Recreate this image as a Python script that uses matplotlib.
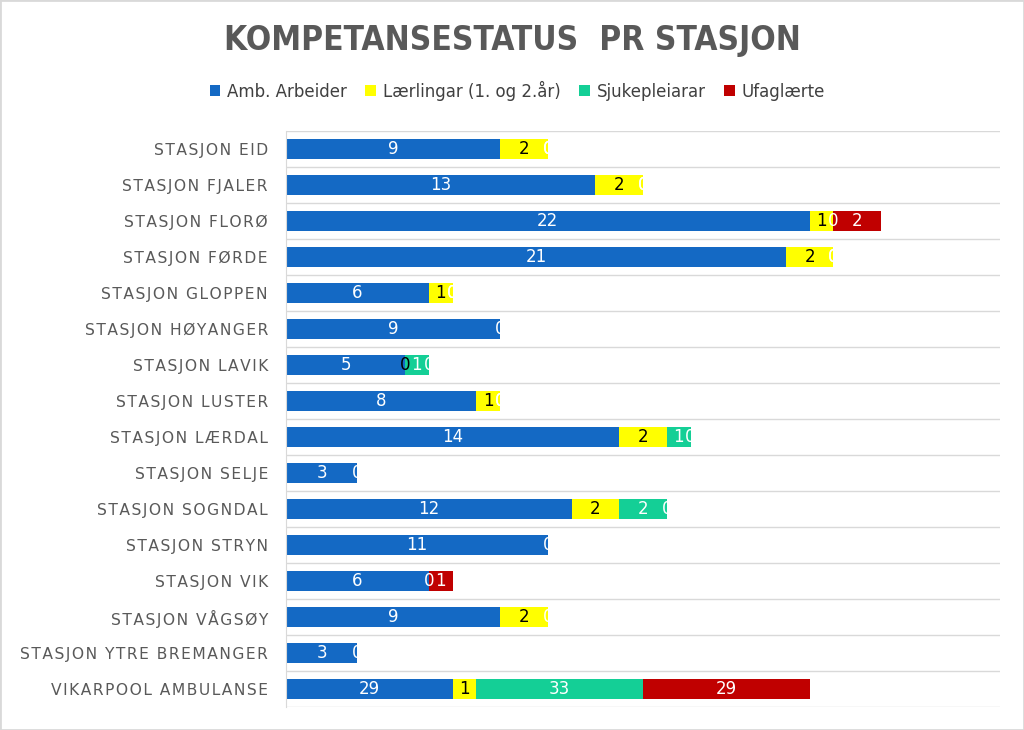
import matplotlib.pyplot as plt
import numpy as np

stations = ["STASJON EID", "STASJON FJALER", "STASJON FLORØ", "STASJON FØRDE",
            "STASJON GLOPPEN", "STASJON HØYANGER", "STASJON LAVIK", "STASJON LUSTER",
            "STASJON LÆRDAL", "STASJON SELJE", "STASJON SOGNDAL", "STASJON STRYN",
            "STASJON VIK", "STASJON VÅGSØY", "STASJON YTRE BREMANGER", "VIKARPOOL AMBULANSE"]
series = ["Amb. Arbeider", "Lærlingar (1. og 2.år)", "Sjukepleiarar", "Ufaglærte"]
colors = ["#1469C4", "#FFFF00", "#14CF96", "#C00000"]
text_colors = ["white", "black", "white", "white"]

# bar lengths as drawn
amb = [9, 13, 22, 21, 6, 9, 5, 8, 14, 3, 12, 11, 6, 9, 3, 7]
laer = [2, 2, 1, 2, 1, 0, 0, 1, 2, 0, 2, 0, 0, 2, 0, 1]
sjuk = [0, 0, 0, 0, 0, 0, 1, 0, 1, 0, 2, 0, 0, 0, 0, 7]
ufag = [0, 0, 2, 0, 0, 0, 0, 0, 0, 0, 0, 0, 1, 0, 0, 7]

# data labels as shown (None = no label)
amb_lbl = [9, 13, 22, 21, 6, 9, 5, 8, 14, 3, 12, 11, 6, 9, 3, 29]
laer_lbl = [2, 2, 1, 2, 1, None, 0, 1, 2, None, 2, None, None, 2, None, 1]
sjuk_lbl = [0, 0, 0, 0, 0, 0, 1, 0, 1, 0, 2, 0, 0, 0, 0, 33]
ufag_lbl = [0, 0, 2, 0, 0, None, 0, 0, 0, None, 0, None, 1, None, None, 29]

values = [amb, laer, sjuk, ufag]
labels = [amb_lbl, laer_lbl, sjuk_lbl, ufag_lbl]


def spaced(s):
    # rough letter spacing with hair spaces
    return "\u200a \u200a".join("\u200a".join(w) for w in s.split(" "))


fig = plt.figure(figsize=(10.24, 7.30), dpi=100)
ax = fig.add_axes([0.2793, 0.0315, 0.6973, 0.789])

y = np.arange(len(stations))
left = np.zeros(len(stations))
for vals, lbls, c, tc, name in zip(values, labels, colors, text_colors, series):
    vals = np.array(vals, dtype=float)
    ax.barh(y, vals, left=left, height=0.55, color=c, label=name)
    for i, (v, l) in enumerate(zip(vals, lbls)):
        if l is None:
            continue
        ax.text(left[i] + v / 2, y[i], str(l), ha="center", va="center",
                color=tc, fontsize=12)
    left += vals

ax.set_xlim(0, 30)
ax.set_ylim(len(stations) - 0.5, -0.5)
ax.set_yticks(y)
ax.set_yticklabels([spaced(s) for s in stations], fontsize=11.2, color="#595959")
ax.tick_params(axis="y", length=0, pad=13)
ax.set_xticks([])
ax.set_yticks(np.arange(-0.5, len(stations)), minor=True)
ax.tick_params(axis="y", which="minor", length=0)
ax.grid(axis="y", which="minor", color="#D9D9D9", linewidth=1)
for s in ["top", "right", "bottom"]:
    ax.spines[s].set_visible(False)
ax.spines["left"].set_color("#D9D9D9")

fig.text(0.5, 0.945, "KOMPETANSESTATUS  PR STASJON", ha="center", va="center",
         fontsize=24, fontweight="bold", color="#595959", fontstretch="condensed")
fig.legend(loc="center", bbox_to_anchor=(0.505, 0.876), ncol=4, frameon=False,
           fontsize=12, handlelength=0.65, handleheight=0.65, handletextpad=0.4,
           columnspacing=1.1, labelcolor="#404040")

fig.patches.append(plt.Rectangle((0, 0), 1, 1, transform=fig.transFigure,
                                 fill=False, edgecolor="#D9D9D9", linewidth=2))
fig.savefig("out.png", dpi=100)
